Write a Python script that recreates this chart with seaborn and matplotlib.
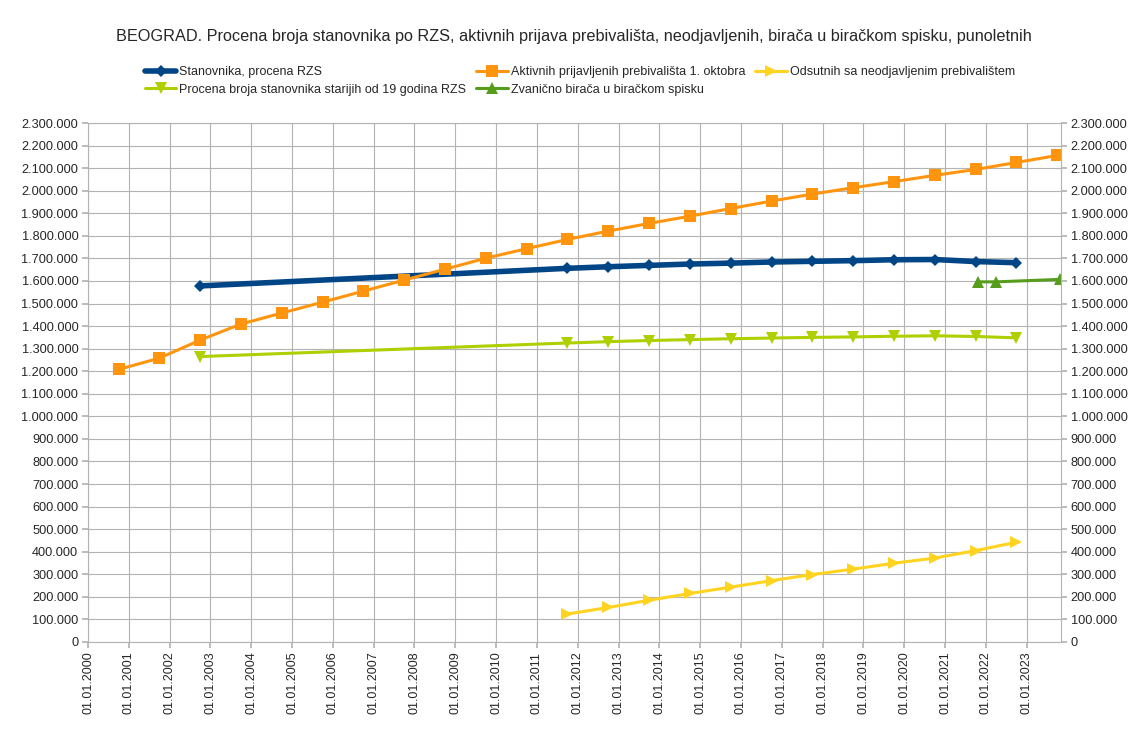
import pandas as pd
import numpy as np
import matplotlib.pyplot as plt
import matplotlib.dates as mdates
import matplotlib.ticker as mticker
import seaborn as sns

# =========================
# data
# =========================
years_all = list(range(2000, 2024))
aktivnih = [1208000, 1258000, 1338000, 1409000, 1458000, 1506000, 1555000, 1604000,
            1652000, 1701000, 1743000, 1784000, 1821000, 1855000, 1887000, 1921000,
            1954000, 1985000, 2013000, 2040000, 2068000, 2094000, 2125000, 2156000]

years_rzs = [2002] + list(range(2011, 2023))
stanovnika = [1578000, 1656000, 1663000, 1669000, 1675000, 1679000, 1684000,
              1687000, 1690000, 1694000, 1695000, 1686000, 1681000]
stariji_19 = [1265000, 1325000, 1331000, 1336000, 1340000, 1344000, 1347000,
              1350000, 1352000, 1355000, 1357000, 1354000, 1348000]

years_odsutni = list(range(2011, 2023))
odsutnih = [124000, 153000, 185000, 215000, 243000, 272000, 299000, 323000,
            349000, 372000, 405000, 442000]

datumi_biraci = ["2021-10-20", "2022-04-03", "2023-10-28"]
biraci = [1596000, 1596000, 1607000]

title = ("BEOGRAD. Procena broja stanovnika po RZS, aktivnih prijava prebivališta, "
         "neodjavljenih, birača u biračkom spisku, punoletnih")


def oct1(years):
    return pd.to_datetime([f"{y}-10-01" for y in years])


sns.set_theme(style="whitegrid")
plt.rcParams["font.family"] = ["Liberation Sans", "DejaVu Sans"]

fig = plt.figure(figsize=(11.47, 7.37), dpi=100)
ax = fig.add_axes([88 / 1147, 1 - 642 / 737, (1061 - 88) / 1147, (642 - 123) / 737])

sns.lineplot(x=oct1(years_rzs), y=stanovnika, ax=ax, color="#004586", lw=4,
             marker="D", markersize=6, markeredgewidth=0, label="Stanovnika, procena RZS")
sns.lineplot(x=oct1(years_rzs), y=stariji_19, ax=ax, color="#aecf00", lw=2.2,
             marker="v", markersize=9, markeredgewidth=0,
             label="Procena broja stanovnika starijih od 19 godina RZS")
sns.lineplot(x=oct1(years_all), y=aktivnih, ax=ax, color="#ff950e", lw=2.2,
             marker="s", markersize=8, markeredgewidth=0,
             label="Aktivnih prijavljenih prebivališta 1. oktobra")
sns.lineplot(x=pd.to_datetime(datumi_biraci), y=biraci, ax=ax, color="#579d1c", lw=2.2,
             marker="^", markersize=9, markeredgewidth=0,
             label="Zvanično birača u biračkom spisku")
sns.lineplot(x=oct1(years_odsutni), y=odsutnih, ax=ax, color="#ffd320", lw=2.2,
             marker=">", markersize=9, markeredgewidth=0,
             label="Odsutnih sa neodjavljenim prebivalištem")

ax.set_xlim(pd.Timestamp("2000-01-01"), pd.Timestamp("2023-11-05"))
ax.set_ylim(0, 2300000)
ax.xaxis.set_major_locator(mdates.YearLocator())
ax.xaxis.set_major_formatter(mdates.DateFormatter("%d.%m.%Y"))
ax.yaxis.set_major_locator(mticker.MultipleLocator(100000))
ax.yaxis.set_major_formatter(mticker.FuncFormatter(
    lambda v, p: f"{int(v):,}".replace(",", ".")))

ax.grid(True, color="#b3b3b3", lw=0.8)
for s in ax.spines.values():
    s.set_color("#b3b3b3")
    s.set_linewidth(0.8)
ax.tick_params(axis="x", labelrotation=90, labelsize=9, length=4, color="#b3b3b3",
               bottom=True, pad=3)
ax.tick_params(axis="y", labelsize=9.2, length=4, color="#b3b3b3", left=True,
               right=True, labelright=True, pad=3)
ax.set_xlabel("")
ax.set_ylabel("")

handles, labels = ax.get_legend_handles_labels()
ax.get_legend().remove()
fig.legend(handles, labels, ncol=3, loc="upper left", bbox_to_anchor=(145 / 1147, 1 - 66 / 737),
           frameon=False, fontsize=9, handlelength=2.5, handletextpad=0.25,
           columnspacing=0.8, labelspacing=0.45, borderaxespad=0, borderpad=0)

fig.text(0.5, 1 - 37 / 737, title, ha="center", va="center", fontsize=11.7)

fig.savefig("out.png", dpi=100)
